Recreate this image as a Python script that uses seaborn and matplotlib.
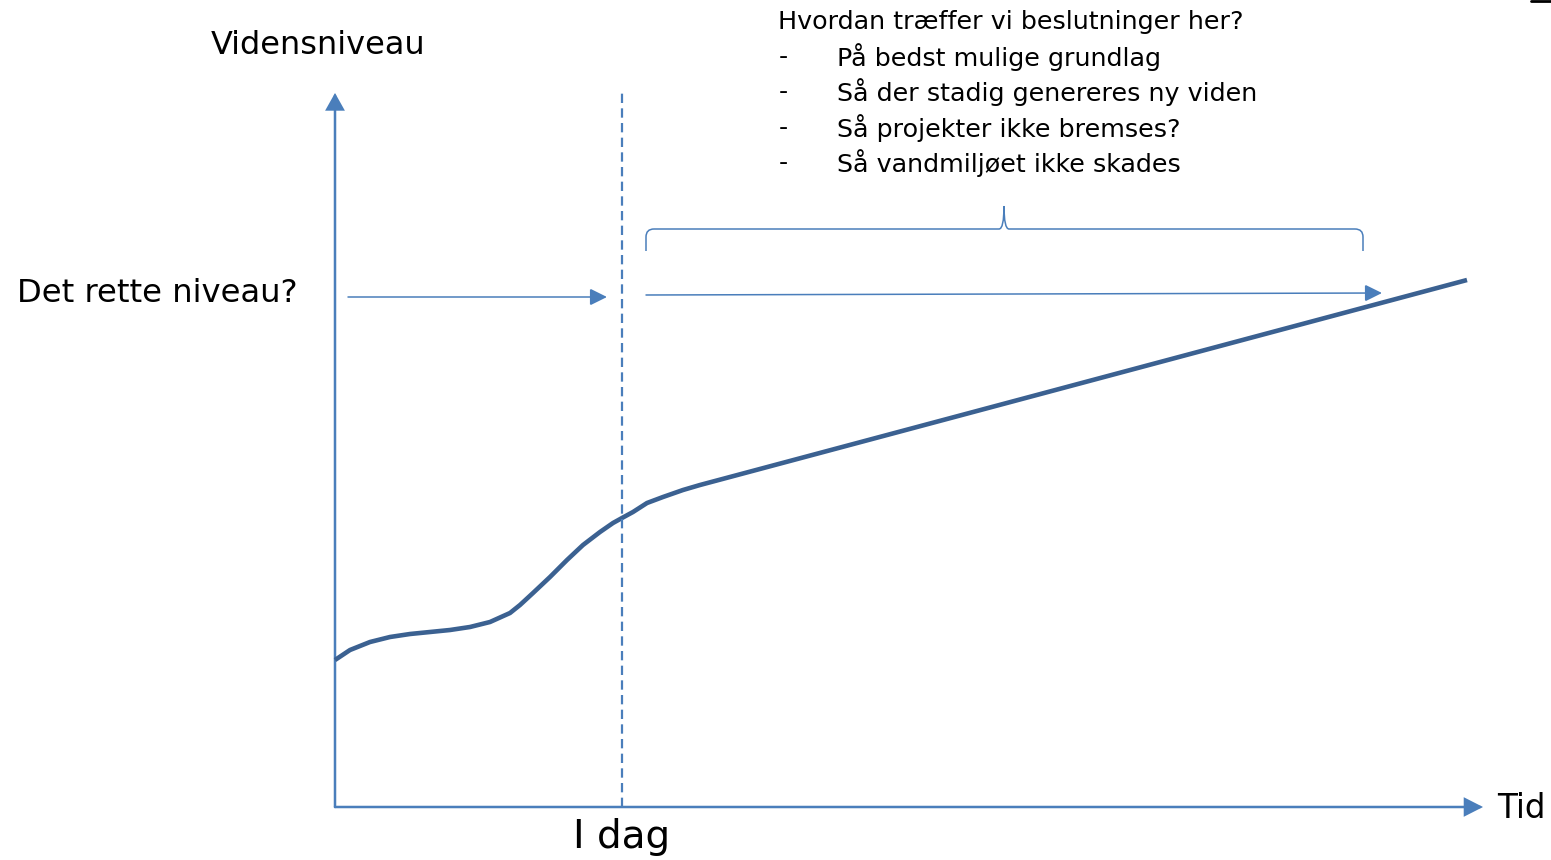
import numpy as np
import pandas as pd
import matplotlib
matplotlib.use("Agg")
import matplotlib.pyplot as plt
from matplotlib.patches import FancyArrowPatch, PathPatch
from matplotlib.path import Path
import seaborn as sns

# knowledge level over time (x = time from origin, y = level above the time axis)
curve_time = [0, 15, 35, 55, 75, 95, 115, 135, 155, 175, 185, 198, 215, 232, 248, 265,
              278, 287, 298, 312, 328, 348, 365, 1132]
curve_level = [147, 157, 165, 170, 173, 175, 177, 180, 185, 194, 202, 214, 230, 247, 262, 275,
               284, 289, 295, 304, 310, 317, 322, 527]

today_time = 287
right_level = 512          # "Det rette niveau?"
axis_time_max = 1148
axis_level_max = 714

heading = "Hvordan træffer vi beslutninger her?"
bullets = ["På bedst mulige grundlag",
           "Så der stadig genereres ny viden",
           "Så projekter ikke bremses?",
           "Så vandmiljøet ikke skades"]

sns.set_style("white")
plt.rcParams['font.family'] = ['DejaVu Sans']

axis_col = "#4a7ebb"
curve_col = "#3b6191"

fig = plt.figure(figsize=(15.51, 8.6), dpi=100)
ax = fig.add_axes([0, 0, 1, 1])
ax.set_xlim(-335, 1216)
ax.set_ylim(-53, 807)
ax.axis("off")

df = pd.DataFrame({"tid": curve_time, "niveau": curve_level})
sns.lineplot(data=df, x="tid", y="niveau", ax=ax, color=curve_col, lw=3.3,
             sort=False, solid_capstyle="butt", solid_joinstyle="round")


def arrow(p0, p1, lw, hl, hw):
    a = FancyArrowPatch(p0, p1, arrowstyle="-|>,head_length=%s,head_width=%s" % (hl, hw),
                        mutation_scale=1, lw=lw, color=axis_col,
                        shrinkA=0, shrinkB=0, joinstyle="miter")
    ax.add_patch(a)


# axes with arrow heads
arrow((0, 0), (0, axis_level_max), 1.8, 10, 5.6)
arrow((0, 0), (axis_time_max, 0), 1.8, 11, 5.6)

# today line
ax.plot([today_time, today_time], [0, axis_level_max], color=axis_col, lw=1.6,
        dashes=(4.2, 2.4))

# level arrows
arrow((13, right_level - 2), (272, right_level - 2), 1.1, 10.5, 5.2)
arrow((311, right_level), (1047, right_level + 2), 1.1, 10.5, 5.2)

# curly brace over the future part
bl, br, bm = 311, 1028, 669
by, bend, btip = 578, 556, 601
verts = [(bl, bend), (bl, by - 8), (bl, by), (bl + 8, by), (bm - 5, by), (bm, by), (bm, btip),
         (bm, by), (bm + 5, by), (br - 8, by), (br, by), (br, by - 8), (br, bend)]
codes = [Path.MOVETO, Path.LINETO, Path.CURVE3, Path.CURVE3, Path.LINETO, Path.CURVE3, Path.CURVE3,
         Path.CURVE3, Path.CURVE3, Path.LINETO, Path.CURVE3, Path.CURVE3, Path.LINETO]
ax.add_patch(PathPatch(Path(verts, codes), fill=False, ec=axis_col, lw=1.1))

# small mark top right
ax.plot([1196, 1216], [806, 806], color="black", lw=2)

# labels
ax.text(-17, 762, "Vidensniveau", fontsize=23, ha="center", va="center", color="black")
ax.text(-318, 514, "Det rette niveau?", fontsize=23.2, ha="left", va="center", color="black")
ax.text(today_time, -30, "I dag", fontsize=28, ha="center", va="center", color="black")
ax.text(1162, -1, "Tid", fontsize=23.5, ha="left", va="center", color="black")

ax.text(443, 785, heading, fontsize=18.3, ha="left", va="center", color="black")
for i, b in enumerate(bullets):
    yy = 750 - i * 35.3
    ax.text(448, yy, "-", fontsize=18.3, ha="center", va="center", color="black")
    ax.text(502, yy, b, fontsize=18.3, ha="left", va="center", color="black")

fig.savefig("out.png", dpi=100)
